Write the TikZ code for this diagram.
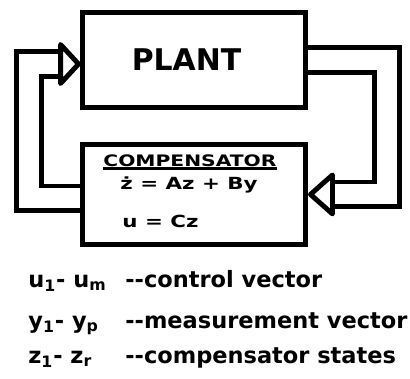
\documentclass[tikz,border=0pt]{standalone}
\usepackage{fontspec}
\setmainfont{DejaVu Sans}
\newfontfamily\widefont[FakeStretch=1.28]{DejaVu Sans}
\usetikzlibrary{calc,positioning,backgrounds}

\begin{document}
\begin{tikzpicture}[node distance=0.64cm,
    box/.style={draw,line width=2.8pt,fill=white,minimum width=4.46cm,inner sep=0pt},
    pipe/.style={line width=2.8pt,double=white,double distance=0.4cm},
    head/.style={draw,line width=2.8pt,fill=white,line join=round},
    lbl/.style={inner sep=0pt,anchor=base west,font=\widefont\bfseries\fontsize{9.5}{11}\selectfont},
    key/.style={inner sep=0pt,anchor=base west,font=\bfseries\fontsize{12.8}{15}\selectfont}]
    \useasboundingbox (0,0) rectangle (8.2,-7.56);
    \node[box,minimum height=1.9cm,font=\bfseries\fontsize{17}{18}\selectfont] (plant) at (3.88,-1.2) {PLANT\hspace*{0.3cm}};
    \node[box,minimum height=2.0cm,below=of plant] (comp) {};
    \node[lbl,font=\widefont\bfseries\fontsize{9}{11}\selectfont] (ctitle) at ($(comp.north west)+(0.46,-0.5)$) {COMPENSATOR};
    \draw[line width=1.7pt] ([yshift=-0.03cm]ctitle.base west) -- ([yshift=-0.03cm]ctitle.base east);
    \node[lbl] (stateeq) at ($(comp.north west)+(0.8,-0.96)$) {ż = Az + By};
    \node[lbl] (outeq) at ($(comp.north west)+(0.84,-1.72)$) {u = Cz};
    \coordinate (ltip) at ($(plant.west)+(-0.03,-0.08)$);
    \coordinate (lbase) at ($(plant.west)+(-0.39,-0.08)$);
    \coordinate (rtip) at ($(comp.east)+(0.05,0)$);
    \coordinate (rbase) at ($(comp.east)+(0.49,0)$);
    \begin{scope}[on background layer]
    \draw[pipe] ([yshift=-0.08cm]comp.west) -- ++(-1.02,0) |- (lbase);
    \draw[pipe] (plant.east) -- ++(1.58,0) |- (rbase);
    \end{scope}
    \draw[head] (ltip) -- ($(lbase)+(0,0.39)$) -- ($(lbase)+(0,-0.39)$) -- cycle;
    \draw[head] (rtip) -- ($(rbase)+(0,0.39)$) -- ($(rbase)+(0,-0.39)$) -- cycle;
    \node[key] (usym) at (0.56,-5.74) {u\textsubscript{1}- u\textsubscript{m}};
    \node[key] (ysym) at (0.56,-6.56) {y\textsubscript{1}- y\textsubscript{p}};
    \node[key] (zsym) at (0.56,-7.26) {z\textsubscript{1}- z\textsubscript{r}};
    \node[key] (udesc) at (usym.base -| 2.5,0) {-{}-control vector};
    \node[key] (ydesc) at (ysym.base -| 2.5,0) {-{}-measurement vector};
    \node[key] (zdesc) at (zsym.base -| 2.5,0) {-{}-compensator states};
\end{tikzpicture}
\end{document}
